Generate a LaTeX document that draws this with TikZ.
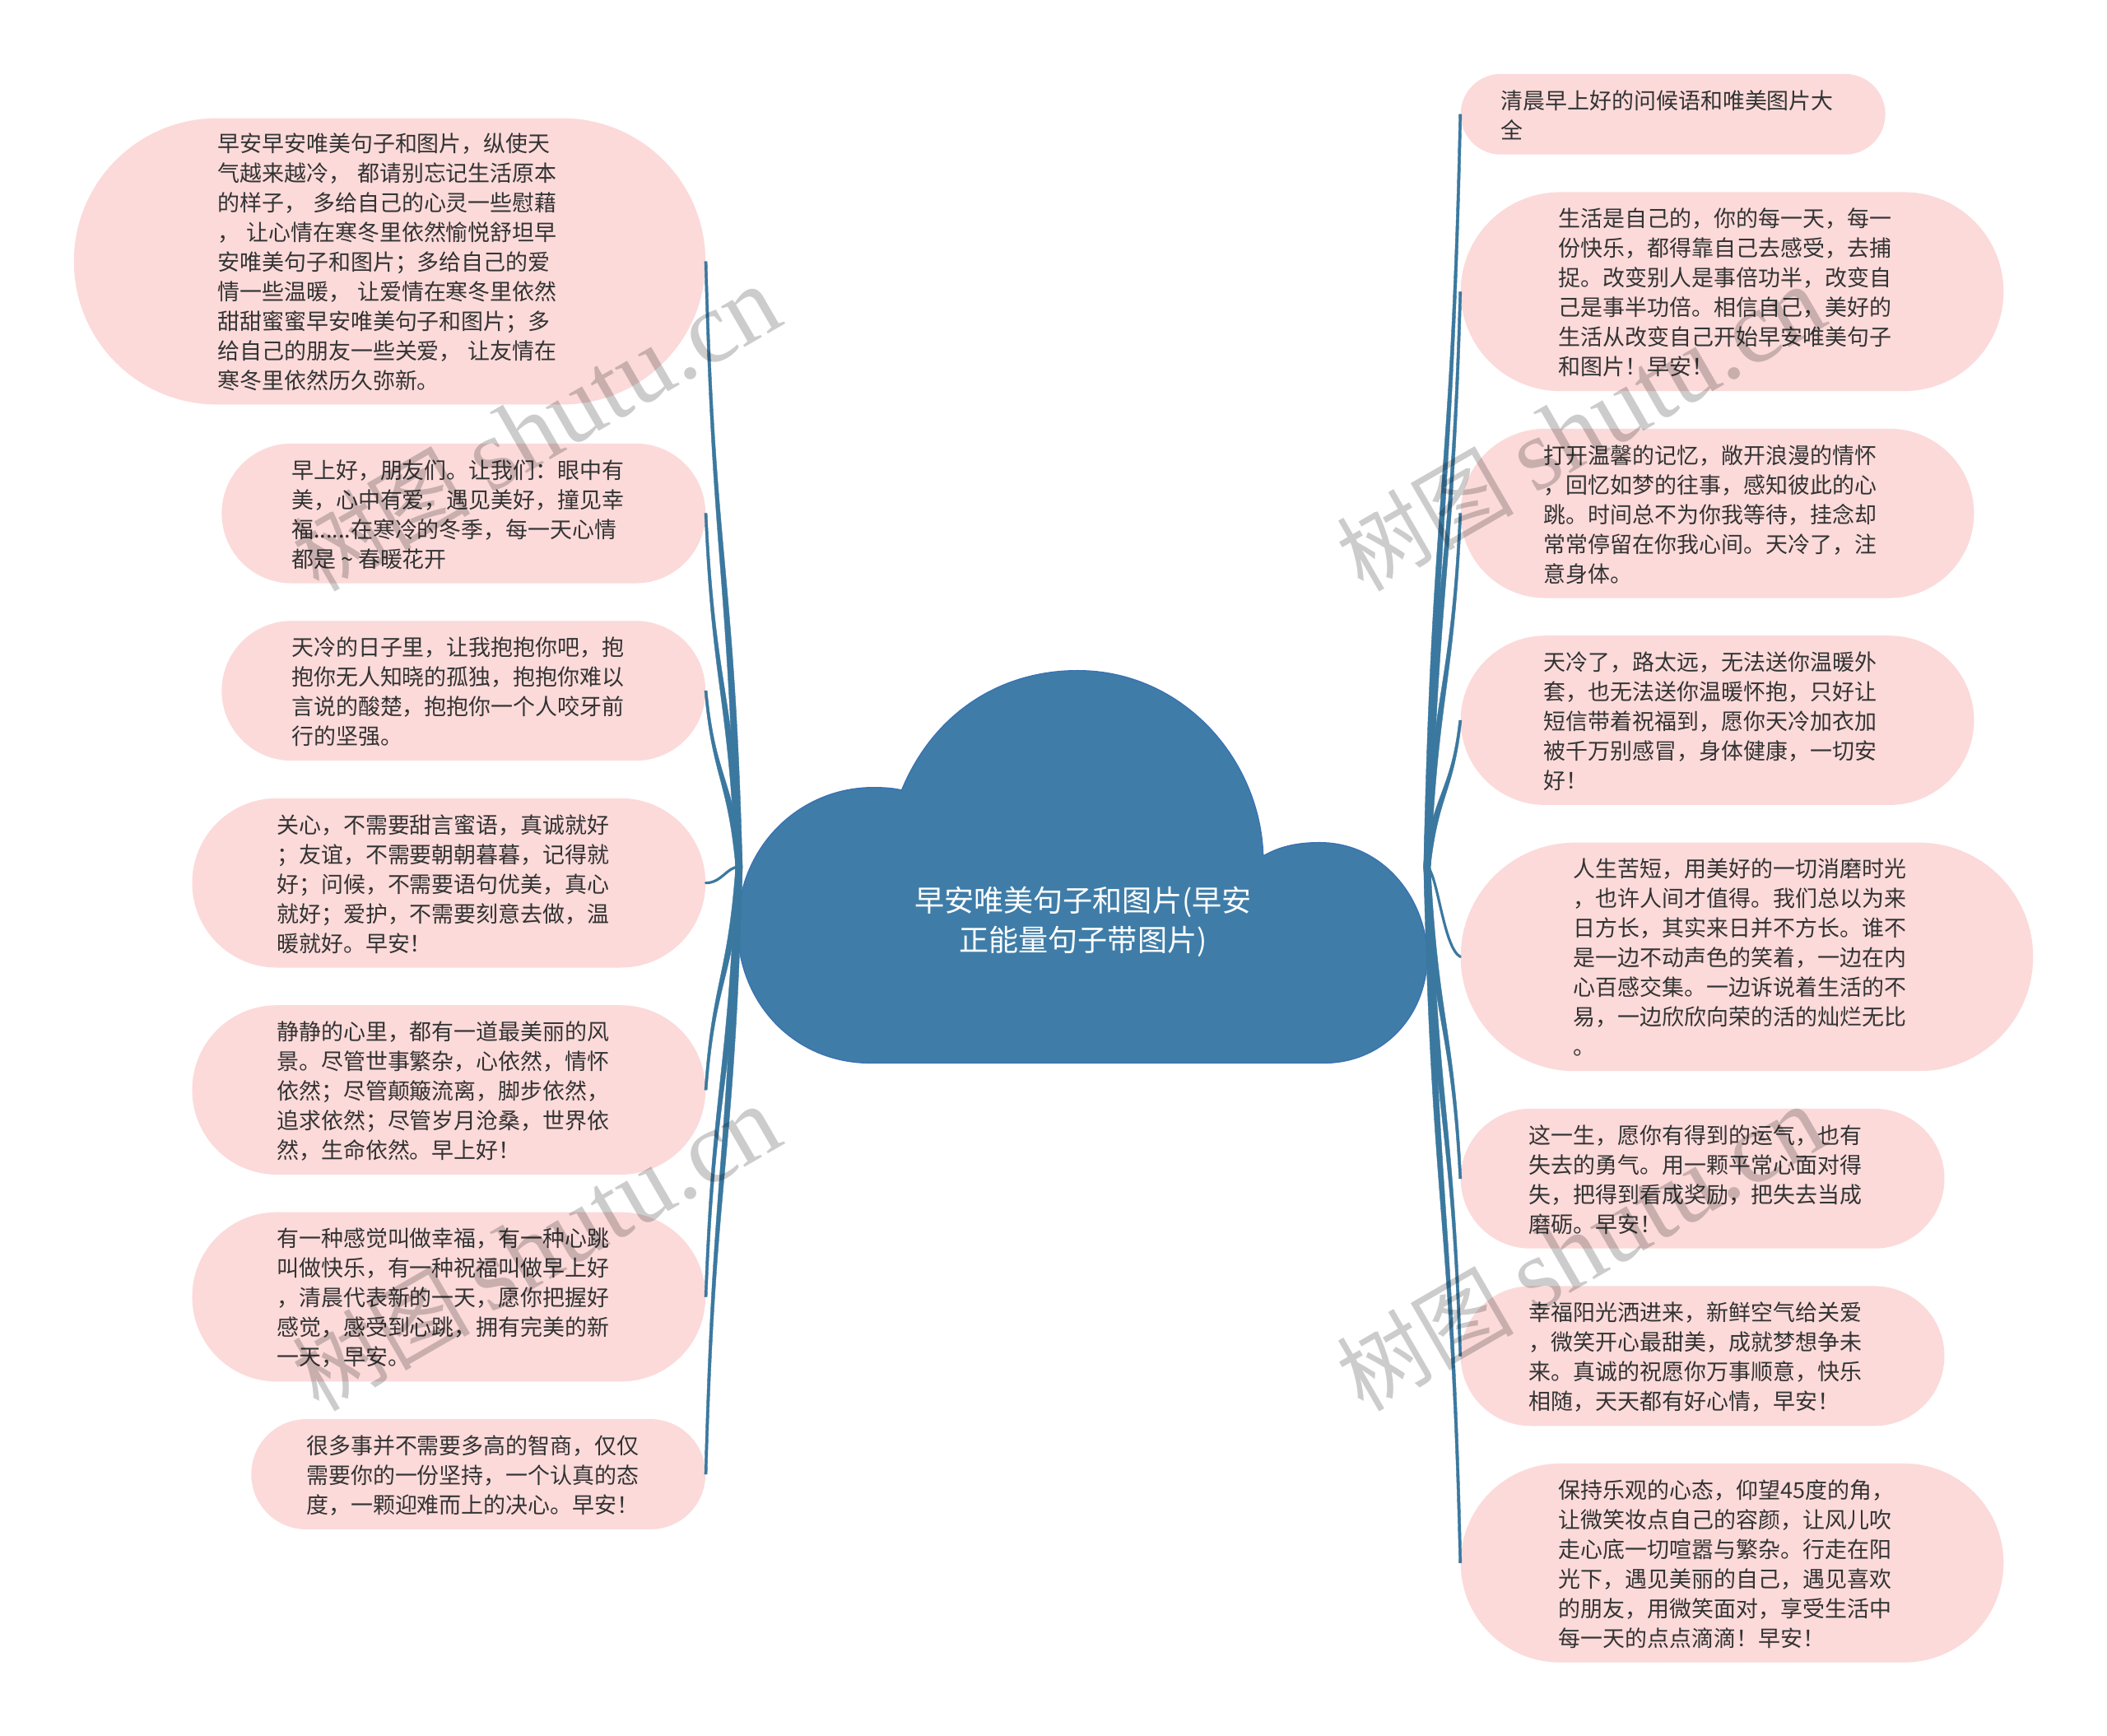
\documentclass[tikz,border=0pt]{standalone}
\usepackage{fontspec}
\usetikzlibrary{calc}
\setmainfont{Noto Sans CJK SC}
\newfontfamily\wmlatin{Liberation Serif}
\definecolor{pinkfill}{HTML}{FCDADA}
\definecolor{cloudfill}{HTML}{3F7DA8}
\definecolor{cloudedge}{HTML}{3A72B4}
\definecolor{linkcol}{HTML}{3B789F}
\definecolor{ink}{HTML}{333333}
\tikzset{
  pill/.style={fill=pinkfill,inner sep=0pt,text=ink,font=\fontsize{13.47}{18}\selectfont},
  linkline/.style={draw=linkcol,fill=linkcol,line width=0.2pt,line join=round},
  linkthin/.style={draw=linkcol,line width=1.6pt,line cap=round},
  wmark/.style={text=black,opacity=.2,rotate=30,inner sep=0pt,font=\fontsize{54}{60}\selectfont}
}
\newcommand{\wmtext}{树图 {\wmlatin\fontsize{62}{62}\selectfont shutu.cn}}
\newcommand{\bub}[7]{%
  \pgfmathsetmacro\bw{(#4-#2)*0.8163}%
  \pgfmathsetmacro\bh{(#5-#3)*0.8163}%
  \pgfmathsetmacro\br{\bh/2-0.01}%
  \pgfmathsetmacro\tw{252*0.8163}%
  \pgfmathsetmacro\bd{2*(#6+126-(#2+#4)/2)*0.8163}%
  \node[pill,minimum width=\bw pt,minimum height=\bh pt,rounded corners=\br pt] (#1) at ({(#2+#4)/2},{(#3+#5)/2})
    {\hspace*{\bd pt}\makebox[\tw pt][l]{\begin{tabular}{@{}l@{}}\noalign{\vskip 4.2pt}#7\end{tabular}}};}
% tapered connector: hub, end point, horizontal sign (-1 left side, +1 right side)
\newcommand{\lnk}[3]{%
  \coordinate (pa) at ($(#1)!.5!(#1|-#2)+(#3*6,0)$);
  \coordinate (pb) at ($(#2)!.5!(#2|-#1)+(-#3*6,0)$);
  \draw[linkline] ($(#1)+(2.5,0)$) .. controls ($(pa)+(2.5,0)$) and ($(pb)+(1,0)$) .. ($(#2)+(1,0)$)
    -- ($(#2)+(-1,0)$) .. controls ($(pb)+(-1,0)$) and ($(pa)+(-2.5,0)$) .. ($(#1)+(-2.5,0)$) -- cycle;}
\begin{document}
\begin{tikzpicture}[x=0.8163pt,y=-0.8163pt]
\useasboundingbox (0,0) rectangle (1568,1291.7);
\fill[white] (0,0) rectangle (1568,1291.7);
% cloud
\draw[fill=cloudfill,draw=cloudedge,line width=0.7pt]
 (671,588) .. controls (695,530) and (745,499) .. (802,499)
 .. controls (880,499) and (938,565) .. (940,637)
 .. controls (952,630) and (965,627) .. (982,627)
 .. controls (1030,627) and (1062,670) .. (1062,712)
 .. controls (1062,755) and (1030,791) .. (985,791)
 -- (648,791)
 .. controls (590,791) and (549,745) .. (549,690)
 .. controls (549,630) and (595,586) .. (650,586)
 .. controls (658,586) and (665,586.5) .. (671,588) -- cycle;
\node[text=white,align=center,inner sep=0pt,font=\fontsize{18.05}{23.7}\selectfont] (root) at (806,686)
 {早安唯美句子和图片(早安\\正能量句子带图片)};
\coordinate (hubL) at (550,645);
\coordinate (hubR) at (1062,645);
% left
\bub{L1}{55}{88}{525}{301}{162}{早安早安唯美句子和图片，纵使天\\气越来越冷，\hspace{.3em}都请别忘记生活原本\\的样子，\hspace{.3em}多给自己的心灵一些慰藉\\，\hspace{.3em}让心情在寒冬里依然愉悦舒坦早\\安唯美句子和图片；多给自己的爱\\情一些温暖，\hspace{.3em}让爱情在寒冬里依然\\甜甜蜜蜜早安唯美句子和图片；多\\给自己的朋友一些关爱，\hspace{.3em}让友情在\\寒冬里依然历久弥新。}
\bub{L2}{165}{330}{525}{434}{217}{早上好，朋友们。让我们：眼中有\\美，心中有爱，遇见美好，撞见幸\\福......在寒冷的冬季，每一天心情\\都是\makebox[1em]{\textasciitilde}春暖花开}
\bub{L3}{165}{462}{525}{566}{217}{天冷的日子里，让我抱抱你吧，抱\\抱你无人知晓的孤独，抱抱你难以\\言说的酸楚，抱抱你一个人咬牙前\\行的坚强。}
\bub{L4}{143}{594}{525}{720}{206}{关心，不需要甜言蜜语，真诚就好\\；友谊，不需要朝朝暮暮，记得就\\好；问候，不需要语句优美，真心\\就好；爱护，不需要刻意去做，温\\暖就好。早安！}
\bub{L5}{143}{748}{525}{874}{206}{静静的心里，都有一道最美丽的风\\景。尽管世事繁杂，心依然，情怀\\依然；尽管颠簸流离，脚步依然，\\追求依然；尽管岁月沧桑，世界依\\然，生命依然。早上好！}
\bub{L6}{143}{902}{525}{1028}{206}{有一种感觉叫做幸福，有一种心跳\\叫做快乐，有一种祝福叫做早上好\\，清晨代表新的一天，愿你把握好\\感觉，感受到心跳，拥有完美的新\\一天，早安。}
\bub{L7}{187}{1056}{525}{1138}{228}{很多事并不需要多高的智商，仅仅\\需要你的一份坚持，一个认真的态\\度，一颗迎难而上的决心。早安！}
% right
\bub{R1}{1087}{55}{1403}{115}{1117}{清晨早上好的问候语和唯美图片大\\全}
\bub{R2}{1087}{143}{1491}{291}{1160}{生活是自己的，你的每一天，每一\\份快乐，都得靠自己去感受，去捕\\捉。改变别人是事倍功半，改变自\\己是事半功倍。相信自己，美好的\\生活从改变自己开始早安唯美句子\\和图片！早安！}
\bub{R3}{1087}{319}{1469}{445}{1149}{打开温馨的记忆，敞开浪漫的情怀\\，回忆如梦的往事，感知彼此的心\\跳。时间总不为你我等待，挂念却\\常常停留在你我心间。天冷了，注\\意身体。}
\bub{R4}{1087}{473}{1469}{599}{1149}{天冷了，路太远，无法送你温暖外\\套，也无法送你温暖怀抱，只好让\\短信带着祝福到，愿你天冷加衣加\\被千万别感冒，身体健康，一切安\\好！}
\bub{R5}{1087}{627}{1513}{797}{1171}{人生苦短，用美好的一切消磨时光\\，也许人间才值得。我们总以为来\\日方长，其实来日并不方长。谁不\\是一边不动声色的笑着，一边在内\\心百感交集。一边诉说着生活的不\\易，一边欣欣向荣的活的灿烂无比\\。}
\bub{R6}{1087}{825}{1447}{929}{1138}{这一生，愿你有得到的运气，也有\\失去的勇气。用一颗平常心面对得\\失，把得到看成奖励，把失去当成\\磨砺。早安！}
\bub{R7}{1087}{957}{1447}{1061}{1138}{幸福阳光洒进来，新鲜空气给关爱\\，微笑开心最甜美，成就梦想争未\\来。真诚的祝愿你万事顺意，快乐\\相随，天天都有好心情，早安！}
\bub{R8}{1087}{1089}{1491}{1237}{1160}{保持乐观的心态，仰望45度的角，\\让微笑妆点自己的容颜，让风儿吹\\走心底一切喧嚣与繁杂。行走在阳\\光下，遇见美丽的自己，遇见喜欢\\的朋友，用微笑面对，享受生活中\\每一天的点点滴滴！早安！}
% connectors
\foreach \n in {L1,L2,L3,L5,L6,L7} {\lnk{hubL}{\n.east}{-1}}
\draw[linkthin] (hubL) .. controls (541,645) and (537,657) .. (L4.east);
\foreach \n in {R1,R2,R3,R4,R6,R7,R8} {\lnk{hubR}{\n.west}{1}}
\draw[linkthin] (hubR) .. controls (1070,650) and (1074,705) .. (R5.west);
% watermark
\node[wmark] (w1) at (399,319) {\wmtext};
\node[wmark] (w2) at (399,929) {\wmtext};
\node[wmark] (w3) at (1176,319) {\wmtext};
\node[wmark] (w4) at (1176,929) {\wmtext};
\end{tikzpicture}
\end{document}
